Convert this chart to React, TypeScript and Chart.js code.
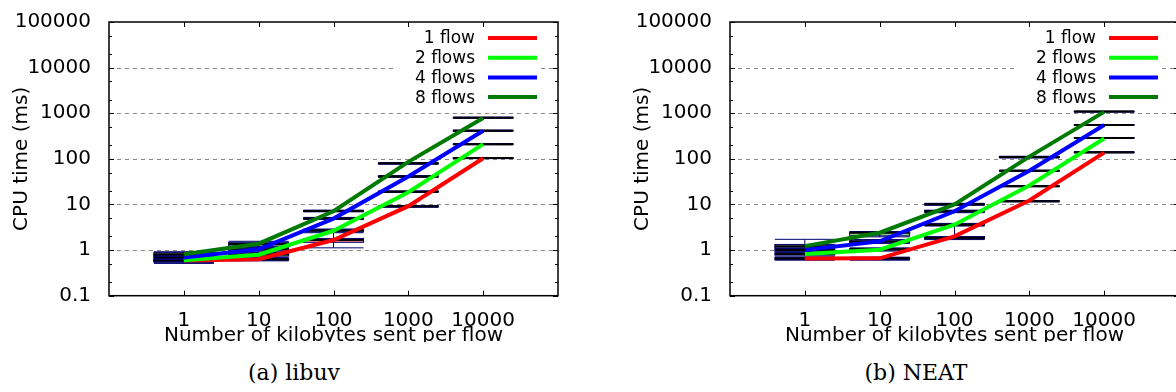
import React, { useEffect, useRef } from 'react';
import { Chart, registerables } from 'chart.js';

Chart.register(...registerables);

const FONT = '"DejaVu Sans", sans-serif';

// ---- data ----
const sizes = [1, 10, 100, 1000, 10000];
const xTickValues = [1, 10, 100, 1000, 10000];
const xTickLabels = ['1', '10', '100', '1000', '10000'];
const yTickValues = [0.1, 1, 10, 100, 1000, 10000, 100000];
const yTickLabels = ['0.1', '1', '10', '100', '1000', '10000', '100000'];
const seriesLabels = ['1 flow', '2 flows', '4 flows', '8 flows'];
const seriesColors = ['#ff0000', '#00ff00', '#0000ff', '#007a00'];
const xTitle = 'Number of kilobytes sent per flow';
const yTitle = 'CPU time (ms)';

// (a) libuv – line values per message size
const libuvFlow1 = [0.59, 0.63, 1.66, 9.2, 103];
const libuvFlow2 = [0.6, 0.79, 2.65, 18.5, 210];
const libuvFlow4 = [0.69, 1.04, 4.9, 41, 412];
const libuvFlow8 = [0.81, 1.38, 7.1, 86, 790];

// (a) libuv – boxes [min, q1, median, q3, max] per message size
const libuvBox1 = [[0.51, 0.55, 0.59, 0.62, 0.64], [0.58, 0.6, 0.63, 0.66, 0.68], [1.12, 1.48, 1.66, 1.8, 2.4], [8.7, 8.8, 9.1, 9.3, 9.4], [101, 102, 104, 106, 107]];
const libuvBox2 = [[0.54, 0.56, 0.6, 0.64, 0.66], [0.7, 0.74, 0.8, 0.86, 0.9], [2.5, 2.6, 2.7, 2.8, 2.9], [18.4, 18.7, 19.1, 19.5, 19.8], [204, 207, 210, 213, 216]];
const libuvBox4 = [[0.62, 0.65, 0.7, 0.75, 0.78], [0.9, 0.96, 1.04, 1.12, 1.18], [4.7, 4.8, 4.9, 5.05, 5.2], [39.5, 40.2, 41.1, 42, 42.8], [404, 409, 415, 421, 426]];
const libuvBox8 = [[0.72, 0.76, 0.81, 0.88, 0.92], [1.15, 1.22, 1.36, 1.48, 1.56], [6.9, 7.0, 7.2, 7.4, 7.5], [76, 78, 79.6, 81, 83], [780, 790, 800, 810, 820]];

// (b) NEAT – line values per message size
const neatFlow1 = [0.65, 0.66, 2.0, 12.2, 137];
const neatFlow2 = [0.82, 1.02, 3.6, 26, 280];
const neatFlow4 = [1.0, 1.55, 7.1, 55, 553];
const neatFlow8 = [1.22, 2.4, 10.0, 112, 1070];

// (b) NEAT – boxes [min, q1, median, q3, max]
const neatBox1 = [[0.6, 0.62, 0.65, 0.68, 0.7], [0.6, 0.62, 0.66, 0.68, 0.7], [1.7, 1.75, 1.85, 1.98, 3.4], [11.4, 11.6, 11.8, 12.0, 12.2], [135, 137, 139, 141, 143]];
const neatBox2 = [[0.74, 0.78, 0.82, 0.86, 0.9], [0.95, 1.0, 1.04, 1.08, 1.12], [3.4, 3.5, 3.6, 3.75, 3.85], [24.5, 24.8, 25.1, 25.6, 26], [280, 283, 287, 291, 294]];
const neatBox4 = [[0.9, 0.94, 1.0, 1.06, 1.1], [1.4, 1.45, 1.55, 1.65, 1.7], [6.6, 6.8, 7.1, 7.3, 7.5], [53, 54, 54.5, 55.5, 56.5], [540, 547, 553, 560, 566]];
const neatBox8 = [[1.08, 1.12, 1.22, 1.33, 1.72], [1.95, 2.05, 2.4, 2.5, 2.55], [9.6, 9.8, 10.1, 10.4, 10.6], [104, 107, 110, 112, 114], [1060, 1075, 1089, 1100, 1110]];

const gridValues = [1, 10, 100, 1000, 10000];
const minorMultipliers = [2, 5];

function hexAlpha(hex: string, a: number) {
  const r = parseInt(hex.slice(1, 3), 16);
  const g = parseInt(hex.slice(3, 5), 16);
  const b = parseInt(hex.slice(5, 7), 16);
  return `rgba(${r},${g},${b},${a})`;
}

function makePlugin(boxes: number[][][]) {
  return {
    id: 'gnuplotLook',
    beforeDatasetsDraw(chart: any) {
      const { ctx, chartArea: a, scales } = chart;
      const xs = scales.x;
      const ys = scales.y;
      ctx.save();
      // dashed grid
      ctx.strokeStyle = '#888888';
      ctx.lineWidth = 1;
      ctx.setLineDash([4, 4]);
      gridValues.forEach((v) => {
        const y = Math.round(ys.getPixelForValue(v)) + 0.5;
        ctx.beginPath();
        ctx.moveTo(a.left, y);
        ctx.lineTo(a.right, y);
        ctx.stroke();
      });
      ctx.setLineDash([]);
      // legend (opaque key)
      const keyLeft = a.left + 284;
      const keyRight = a.left + 432;
      ctx.fillStyle = '#ffffff';
      ctx.fillRect(keyLeft, a.top + 1, keyRight - keyLeft, 86);
      ctx.font = `17px ${FONT}`;
      ctx.textAlign = 'right';
      ctx.textBaseline = 'middle';
      chart.data.datasets.forEach((ds: any, i: number) => {
        const y = a.top + 16 + i * 19.7;
        ctx.fillStyle = '#000';
        ctx.fillText(ds.label, a.left + 366, y + 1);
        ctx.strokeStyle = ds.borderColor;
        ctx.lineWidth = 4;
        ctx.beginPath();
        ctx.moveTo(a.left + 379, y);
        ctx.lineTo(a.left + 428, y);
        ctx.stroke();
      });
      // boxes
      ctx.save();
      ctx.beginPath();
      ctx.rect(a.left, a.top, a.right - a.left, a.bottom - a.top);
      ctx.clip();
      boxes.forEach((series, i) => {
        series.forEach((b, j) => {
          const cx = xs.getPixelForValue(sizes[j]);
          const x0 = cx - 30;
          const x1 = cx + 30;
          const [mn, q1, md, q3, mx] = b.map((v) => ys.getPixelForValue(v));
          ctx.strokeStyle = '#000070';
          ctx.lineWidth = 1;
          ctx.beginPath();
          ctx.moveTo(cx, mn);
          ctx.lineTo(cx, mx);
          ctx.stroke();
          ctx.fillStyle = hexAlpha(seriesColors[i], 0.45);
          ctx.fillRect(x0, q3, x1 - x0, q1 - q3);
          ctx.strokeRect(x0, q3, x1 - x0, q1 - q3);
          ctx.beginPath();
          ctx.moveTo(x0, mn);
          ctx.lineTo(x1, mn);
          ctx.moveTo(x0, mx);
          ctx.lineTo(x1, mx);
          ctx.stroke();
          ctx.strokeStyle = '#000000';
          ctx.lineWidth = 2;
          ctx.beginPath();
          ctx.moveTo(x0, md);
          ctx.lineTo(x1, md);
          ctx.stroke();
        });
      });
      ctx.restore();
      ctx.restore();
    },
    afterDraw(chart: any) {
      const { ctx, chartArea: a, scales } = chart;
      const xs = scales.x;
      const ys = scales.y;
      ctx.save();
      ctx.strokeStyle = '#000';
      ctx.lineWidth = 1;
      ctx.beginPath();
      yTickValues.forEach((v) => {
        const y = Math.round(ys.getPixelForValue(v)) + 0.5;
        ctx.moveTo(a.left, y);
        ctx.lineTo(a.left + 5, y);
        ctx.moveTo(a.right, y);
        ctx.lineTo(a.right - 5, y);
        if (v < 100000) {
          minorMultipliers.forEach((m) => {
            const ym = Math.round(ys.getPixelForValue(v * m)) + 0.5;
            ctx.moveTo(a.left, ym);
            ctx.lineTo(a.left + 3, ym);
            ctx.moveTo(a.right, ym);
            ctx.lineTo(a.right - 3, ym);
          });
        }
      });
      xTickValues.forEach((v) => {
        const x = Math.round(xs.getPixelForValue(v)) + 0.5;
        ctx.moveTo(x, a.bottom);
        ctx.lineTo(x, a.bottom - 5);
        ctx.moveTo(x, a.top);
        ctx.lineTo(x, a.top + 5);
      });
      ctx.stroke();
      ctx.lineWidth = 1.5;
      ctx.strokeRect(a.left, a.top, a.right - a.left, a.bottom - a.top);
      ctx.restore();
    },
  };
}

function Panel({ lines, boxes, left }: { lines: number[][]; boxes: number[][][]; left: number }) {
  const ref = useRef<HTMLCanvasElement>(null);
  useEffect(() => {
    const canvas = ref.current!;
    const chart = new Chart(canvas, {
      type: 'line',
      data: {
        datasets: lines.map((vals, i) => ({
          label: seriesLabels[i],
          data: sizes.map((s, j) => ({ x: s, y: vals[j] })),
          borderColor: seriesColors[i],
          backgroundColor: seriesColors[i],
          borderWidth: 4,
          pointRadius: 0,
          tension: 0,
          order: 4 - i,
        })),
      },
      options: {
        responsive: false,
        animation: false,
        devicePixelRatio: 1,
        layout: { padding: { left: 0, right: 22, top: 15.7, bottom: 0 } },
        plugins: { legend: { display: false }, tooltip: { enabled: false } },
        scales: {
          x: {
            type: 'logarithmic',
            min: 0.1,
            max: 100000,
            grid: { display: false },
            border: { display: false },
            afterBuildTicks: (s: any) => {
              s.ticks = xTickValues.map((v) => ({ value: v }));
            },
            afterFit: (s: any) => {
              s.height = 46.3;
            },
            ticks: {
              autoSkip: false,
              maxRotation: 0,
              padding: 5,
              color: '#000',
              font: { family: FONT, size: 20 },
              callback: (_v: any, i: number) => xTickLabels[i],
            },
            title: {
              display: true,
              text: xTitle,
              color: '#000',
              font: { family: FONT, size: 20 },
              padding: { top: 0, bottom: -5.4 },
            },
          },
          y: {
            type: 'logarithmic',
            min: 0.1,
            max: 100000,
            grid: { display: false },
            border: { display: false },
            afterBuildTicks: (s: any) => {
              s.ticks = yTickValues.map((v) => ({ value: v }));
            },
            afterFit: (s: any) => {
              s.width = 109;
            },
            ticks: {
              autoSkip: false,
              padding: 10,
              color: '#000',
              font: { family: FONT, size: 20 },
              callback: (_v: any, i: number) => yTickLabels[i],
            },
            title: {
              display: true,
              text: yTitle,
              color: '#000',
              font: { family: FONT, size: 20 },
              padding: { top: 10, bottom: 0 },
            },
          },
        },
      } as any,
      plugins: [makePlugin(boxes)],
    });
    return () => chart.destroy();
  }, []);
  return (
    <canvas
      ref={ref}
      width={580}
      height={342}
      style={{ position: 'absolute', left, top: 0, width: 580, height: 342 }}
    />
  );
}

const captionStyle: React.CSSProperties = {
  position: 'absolute',
  top: 360,
  width: 240,
  textAlign: 'center',
  fontFamily: '"DejaVu Serif", serif',
  fontSize: 22,
  lineHeight: '26px',
  color: '#000',
};

export default function App() {
  return (
    <div
      style={{
        position: 'absolute',
        left: 0,
        top: 0,
        width: 1176,
        height: 392,
        overflow: 'hidden',
        background: '#fff',
      }}
    >
      <Panel lines={[libuvFlow1, libuvFlow2, libuvFlow4, libuvFlow8]} boxes={[libuvBox1, libuvBox2, libuvBox4, libuvBox8]} left={0} />
      <Panel lines={[neatFlow1, neatFlow2, neatFlow4, neatFlow8]} boxes={[neatBox1, neatBox2, neatBox4, neatBox8]} left={621} />
      <div style={{ ...captionStyle, left: 294 - 120 }}>(a) libuv</div>
      <div style={{ ...captionStyle, left: 916 - 120 }}>(b) NEAT</div>
    </div>
  );
}
